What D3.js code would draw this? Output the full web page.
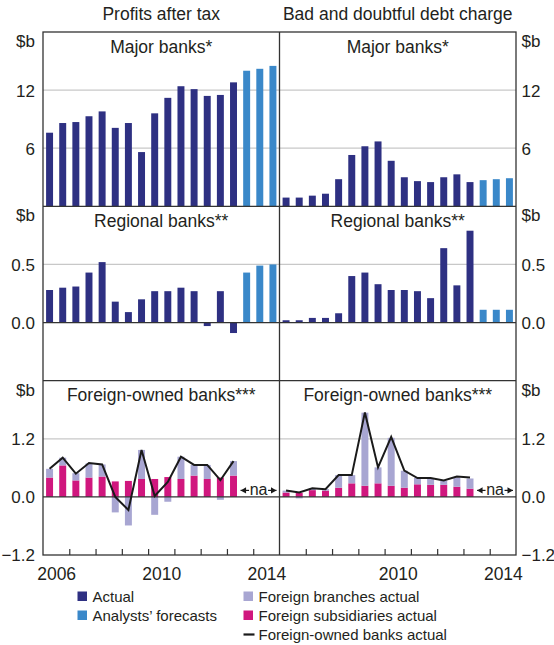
<!DOCTYPE html>
<html><head><meta charset="utf-8">
<script src="https://cdn.jsdelivr.net/npm/d3@7"></script>
<style>
body{margin:0;background:#fff;}
svg text{font-family:"Liberation Sans",Arial,Helvetica,sans-serif;fill:#231f20;}
</style></head><body>
<svg id="c" width="554" height="645"></svg>
<script>
// ---------- DATA ----------
const periods = ["2006H1","2006H2","2007H1","2007H2","2008H1","2008H2","2009H1","2009H2",
  "2010H1","2010H2","2011H1","2011H2","2012H1","2012H2","2013H1","2013H2","2014H1","2014H2"];
const actualPeriods = periods.slice(0, 15);
const forecastPeriods = periods.slice(15);
const yearLabelsLeft = [2006, 2010, 2014];
const yearLabelsRight = [2010, 2014];

const profitMajorActual = [7.6, 8.6, 8.7, 9.3, 9.8, 8.1, 8.6, 5.6, 9.6, 11.2, 12.4, 12.1, 11.4, 11.5, 12.8];
const profitMajorForecast = [14.0, 14.2, 14.5];
const bddMajorActual = [0.9, 0.9, 1.1, 1.3, 2.8, 5.3, 6.2, 6.7, 4.7, 3.0, 2.6, 2.5, 3.0, 3.3, 2.5];
const bddMajorForecast = [2.7, 2.8, 2.9];

const profitRegionalActual = [0.28, 0.30, 0.31, 0.43, 0.52, 0.18, 0.09, 0.20, 0.27, 0.27, 0.30, 0.27, -0.03, 0.27, -0.09];
const profitRegionalForecast = [0.43, 0.49, 0.50];
const bddRegionalActual = [0.02, 0.02, 0.04, 0.04, 0.08, 0.40, 0.43, 0.33, 0.28, 0.28, 0.27, 0.21, 0.64, 0.32, 0.79];
const bddRegionalForecast = [0.11, 0.11, 0.11];

const profitForeignSubs = [0.40, 0.65, 0.34, 0.40, 0.42, 0.32, 0.33, 0.37, 0.37, 0.41, 0.37, 0.44, 0.37, 0.40, 0.44];
const profitForeignBranches = [0.18, 0.16, 0.15, 0.29, 0.25, -0.32, -0.59, 0.60, -0.37, -0.10, 0.46, 0.22, 0.29, -0.06, 0.30];
const profitForeignTotal = [0.58, 0.81, 0.48, 0.70, 0.67, 0.0, -0.27, 0.97, 0.02, 0.31, 0.83, 0.66, 0.66, 0.345, 0.74];

const bddForeignSubs = [0.09, 0.08, 0.14, 0.13, 0.19, 0.28, 0.23, 0.28, 0.23, 0.19, 0.26, 0.25, 0.25, 0.21, 0.17];
const bddForeignBranches = [0.04, -0.03, 0.04, 0.03, 0.26, 0.17, 1.51, 0.33, 0.99, 0.35, 0.13, 0.12, 0.08, 0.19, 0.21];
const bddForeignTotal = [0.13, 0.09, 0.18, 0.16, 0.45, 0.45, 1.745, 0.61, 1.24, 0.545, 0.39, 0.39, 0.34, 0.42, 0.40];

// ---------- STYLE ----------
const C = {actual:"#2e3082", forecast:"#3a88c9", branch:"#a8a6d2", subs:"#d0177e", line:"#1a1a1a",
  grid:"#c8c8c8", frame:"#333333", text:"#231f20"};

const svg = d3.select("#c");
const cols = [{x0:43, x1:279.5}, {x0:279.5, x1:516}];
const rowsY = [32, 206.3, 380.7, 555];
const yScales = [
  d3.scaleLinear().domain([0, 18]).range([rowsY[1], rowsY[0]]),
  d3.scaleLinear().domain([-0.5, 1.0]).range([rowsY[2], rowsY[1]]),
  d3.scaleLinear().domain([-1.2, 2.4]).range([rowsY[3], rowsY[2]])
];
const gridVals = [[6, 12], [0.5], [1.2]];
const tickVals = [[6, 12], [0, 0.5], [-1.2, 0, 1.2]];
const tickFmt = [d3.format("d"), d3.format(".1f"), d3.format(".1f")];

const xBand = cols.map(c => d3.scaleBand().domain(periods).range([c.x0, c.x1]).paddingInner(0.47).paddingOuter(0.235));
const xYear = cols.map(c => d3.scaleLinear().domain([2006, 2015]).range([c.x0, c.x1]));

// gridlines
cols.forEach(c => {
  yScales.forEach((y, r) => {
    svg.append("g").selectAll("line").data(gridVals[r]).join("line")
      .attr("x1", c.x0).attr("x2", c.x1).attr("y1", d => y(d)).attr("y2", d => y(d))
      .attr("stroke", C.grid).attr("stroke-width", 1.2);
  });
});

function simpleBars(ci, r, actual, forecast) {
  const x = xBand[ci], y = yScales[r];
  const g = svg.append("g");
  g.selectAll("rect.a").data(actual.map((v, i) => [actualPeriods[i], v])).join("rect")
    .attr("x", d => x(d[0])).attr("width", x.bandwidth())
    .attr("y", d => y(Math.max(0, d[1]))).attr("height", d => Math.abs(y(d[1]) - y(0)))
    .attr("fill", C.actual);
  g.selectAll("rect.f").data(forecast.map((v, i) => [forecastPeriods[i], v])).join("rect")
    .attr("x", d => x(d[0])).attr("width", x.bandwidth())
    .attr("y", d => y(Math.max(0, d[1]))).attr("height", d => Math.abs(y(d[1]) - y(0)))
    .attr("fill", C.forecast);
}
simpleBars(0, 0, profitMajorActual, profitMajorForecast);
simpleBars(1, 0, bddMajorActual, bddMajorForecast);
simpleBars(0, 1, profitRegionalActual, profitRegionalForecast);
simpleBars(1, 1, bddRegionalActual, bddRegionalForecast);

function foreignPanel(ci, subs, branches, total) {
  const x = xBand[ci], y = yScales[2];
  const g = svg.append("g");
  const rows = subs.map((s, i) => ({p: actualPeriods[i], s, b: branches[i], t: total[i]}));
  g.selectAll("rect.s").data(rows).join("rect")
    .attr("x", d => x(d.p)).attr("width", x.bandwidth())
    .attr("y", d => y(d.s)).attr("height", d => y(0) - y(d.s)).attr("fill", C.subs);
  g.selectAll("rect.b").data(rows).join("rect")
    .attr("x", d => x(d.p)).attr("width", x.bandwidth())
    .attr("y", d => d.b >= 0 ? y(d.s + d.b) : y(0))
    .attr("height", d => d.b >= 0 ? y(d.s) - y(d.s + d.b) : y(d.b) - y(0))
    .attr("fill", C.branch);
  // zero line
  g.append("line").attr("x1", xYear[ci].range()[0]).attr("x2", xYear[ci].range()[1])
    .attr("y1", y(0)).attr("y2", y(0)).attr("stroke", C.frame).attr("stroke-width", 1.2);
  g.append("path").datum(rows)
    .attr("d", d3.line().x(d => x(d.p) + x.bandwidth() / 2).y(d => y(d.t)))
    .attr("fill", "none").attr("stroke", C.line).attr("stroke-width", 2).attr("stroke-linejoin", "miter");
  // na annotation
  const xs = xYear[ci](2013.5) + 0.5, xe = xYear[ci](2015) - 3;
  const xm = (xs + xe) / 2, ya = y(0) - 6.5;
  g.append("text").attr("x", xm).attr("y", y(0) - 2).attr("text-anchor", "middle")
    .style("font-size", "16px").text("na");
  const hw = 9.5;
  [[xs, xm - hw, -1], [xm + hw, xe, 1]].forEach(([a, b, dir]) => {
    g.append("line").attr("x1", a).attr("x2", b).attr("y1", ya).attr("y2", ya)
      .attr("stroke", C.line).attr("stroke-width", 1.2);
    const tip = dir < 0 ? a : b;
    g.append("path").attr("d", `M${tip},${ya} L${tip - dir * 5.5},${ya - 3.2} L${tip - dir * 5.5},${ya + 3.2} Z`)
      .attr("fill", C.line);
  });
}
foreignPanel(0, profitForeignSubs, profitForeignBranches, profitForeignTotal);
foreignPanel(1, bddForeignSubs, bddForeignBranches, bddForeignTotal);

// middle zero line
cols.forEach((c, ci) => {
  svg.append("line").attr("x1", c.x0).attr("x2", c.x1)
    .attr("y1", yScales[1](0)).attr("y2", yScales[1](0)).attr("stroke", C.frame).attr("stroke-width", 1.2);
});

// frame
const fg = svg.append("g").attr("stroke", C.frame).attr("stroke-width", 1.3).attr("fill", "none");
fg.append("rect").attr("x", cols[0].x0).attr("y", rowsY[0]).attr("width", cols[1].x1 - cols[0].x0).attr("height", rowsY[3] - rowsY[0]);
fg.append("line").attr("x1", cols[0].x1).attr("x2", cols[0].x1).attr("y1", rowsY[0]).attr("y2", rowsY[3]);
[rowsY[1], rowsY[2]].forEach(yy => fg.append("line").attr("x1", cols[0].x0).attr("x2", cols[1].x1).attr("y1", yy).attr("y2", yy));

// year ticks & labels
cols.forEach((c, ci) => {
  const ax = d3.axisBottom(xYear[ci]).tickValues(d3.range(2007, 2015)).tickSize(-6).tickFormat("");
  const g = svg.append("g").attr("transform", `translate(0,${rowsY[3]})`).call(ax);
  g.select(".domain").remove();
  g.selectAll("line").attr("stroke", C.frame).attr("stroke-width", 1.2);
  const labs = ci === 0 ? yearLabelsLeft : yearLabelsRight;
  const ax2 = d3.axisBottom(xYear[ci]).tickValues(labs.map(v => v + 0.5)).tickSize(0).tickFormat(d => Math.floor(d));
  const g2 = svg.append("g").attr("transform", `translate(0,${rowsY[3]})`).call(ax2);
  g2.select(".domain").remove();
  g2.selectAll("text").attr("y", 25).attr("dy", 0).style("font-size", "17.5px").attr("fill", C.text).attr("font-family", null);
});

// y tick labels
yScales.forEach((y, r) => {
  [{x: 35, anchor: "end", ax: d3.axisLeft}, {x: 521.5, anchor: "start", ax: d3.axisRight}].forEach((s, k) => {
    const a = s.ax(y).tickValues(tickVals[r]).tickSize(0).tickFormat(tickFmt[r]);
    const g = svg.append("g").call(a);
    g.select(".domain").remove();
    g.selectAll("text").attr("x", s.x).attr("dy", "0.35em").attr("text-anchor", s.anchor)
      .style("font-size", "17px").attr("fill", C.text).attr("font-family", null);
    svg.append("text").attr("x", s.x).attr("y", rowsY[r] + 9).attr("dy", "0.35em")
      .attr("text-anchor", s.anchor).style("font-size", "17px").text("$b");
  });
});

// titles
const colTitles = ["Profits after tax", "Bad and doubtful debt charge"];
const panelTitles = ["Major banks*", "Regional banks**", "Foreign-owned banks***"];
cols.forEach((c, ci) => {
  const cx = (c.x0 + c.x1) / 2;
  svg.append("text").attr("x", cx).attr("y", 20).attr("text-anchor", "middle").style("font-size", "17.5px").text(colTitles[ci]);
  panelTitles.forEach((t, r) => {
    svg.append("text").attr("x", cx).attr("y", rowsY[r] + 20.5).attr("text-anchor", "middle").style("font-size", "17.5px").text(t);
  });
});

// legend
const legLeft = [["Actual", C.actual], ["Analysts\u2019 forecasts", C.forecast]];
const legRight = [["Foreign branches actual", C.branch], ["Foreign subsidiaries actual", C.subs]];
function legendRow(x, yb, label, color, isLine) {
  if (isLine) svg.append("line").attr("x1", x).attr("x2", x + 11).attr("y1", yb - 5).attr("y2", yb - 5).attr("stroke", color).attr("stroke-width", 2.2);
  else svg.append("rect").attr("x", x).attr("y", yb - 10).attr("width", 9.5).attr("height", 9.5).attr("fill", color);
  svg.append("text").attr("x", x + 15).attr("y", yb).style("font-size", "15px").text(label);
}
legLeft.forEach((d, i) => legendRow(77.5, 601.5 + i * 19, d[0], d[1]));
legRight.forEach((d, i) => legendRow(243.5, 601.5 + i * 19, d[0], d[1]));
legendRow(243.5, 639.5, "Foreign-owned banks actual", C.line, true);
</script>
</body></html>
